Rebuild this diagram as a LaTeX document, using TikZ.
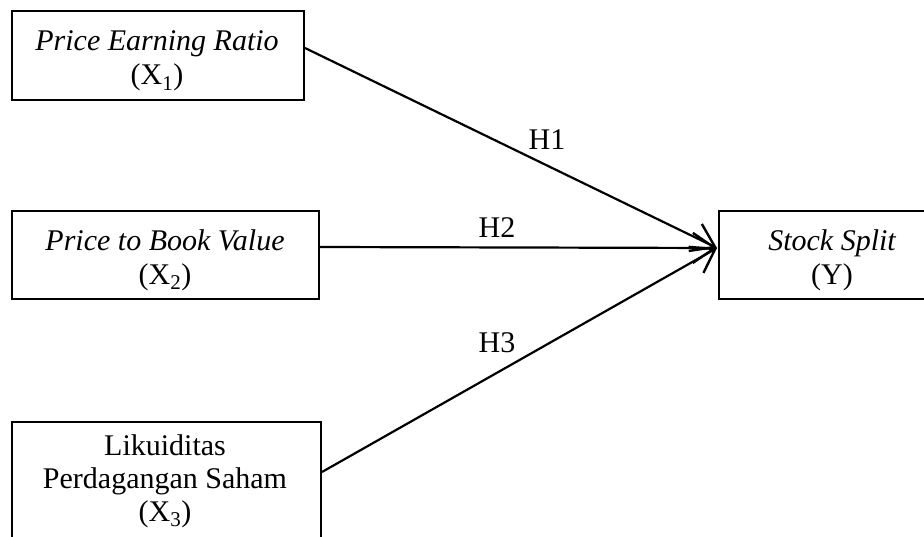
\documentclass[tikz,border=0pt]{standalone}
\usepackage{fontspec}
\setmainfont{Liberation Serif}
\usetikzlibrary{arrows.meta}
\begin{document}
\begin{tikzpicture}[x=1pt,y=-1pt,
  box/.style={draw,line width=2pt,anchor=north west,inner sep=0pt},
  txt/.style={align=center,inner sep=0pt,font=\fontsize{30}{34}\selectfont},
  arr/.style={line width=2.2pt,-{Straight Barb[length=22pt,width=30pt,line width=2.4pt]}},
  hlab/.style={font=\fontsize{30}{35}\selectfont,inner sep=0pt}]
\useasboundingbox (0,0) rectangle (924,537);
\node[box,minimum width=292pt,minimum height=89pt] (b1) at (11,10) {};
\node[txt] (t1) at (157,61) {\itshape Price Earning Ratio\\(X\textsubscript{1})};
\node[box,minimum width=307pt,minimum height=88pt] (b2) at (11,210) {};
\node[txt] (t2) at (165,260) {\itshape Price to Book Value\\(X\textsubscript{2})};
\node[box,minimum width=309pt,minimum height=150pt] (b3) at (11,421) {};
\node[txt,font=\fontsize{30}{33}\selectfont] (t3) at (165,481)
  {Likuiditas\\Perdagangan Saham\\(X\textsubscript{3})};
\node[box,minimum width=228pt,minimum height=88pt] (y) at (718,210) {};
\node[txt] (ty) at (832,260) {\itshape Stock Split\\(Y)};
\coordinate (tip) at ([xshift=-1pt,yshift=7pt]y.west);
\draw[arr] ([yshift=7.5pt]b1.east) -- (tip);
\draw[arr] ([yshift=8pt]b2.east) -- (tip);
\draw[arr] ([yshift=25pt]b3.east) -- (tip);
\node[hlab] (h1) at (547,140) {H1};
\node[hlab] (h2) at (497,228) {H2};
\node[hlab] (h3) at (497,343) {H3};
\end{tikzpicture}
\end{document}
